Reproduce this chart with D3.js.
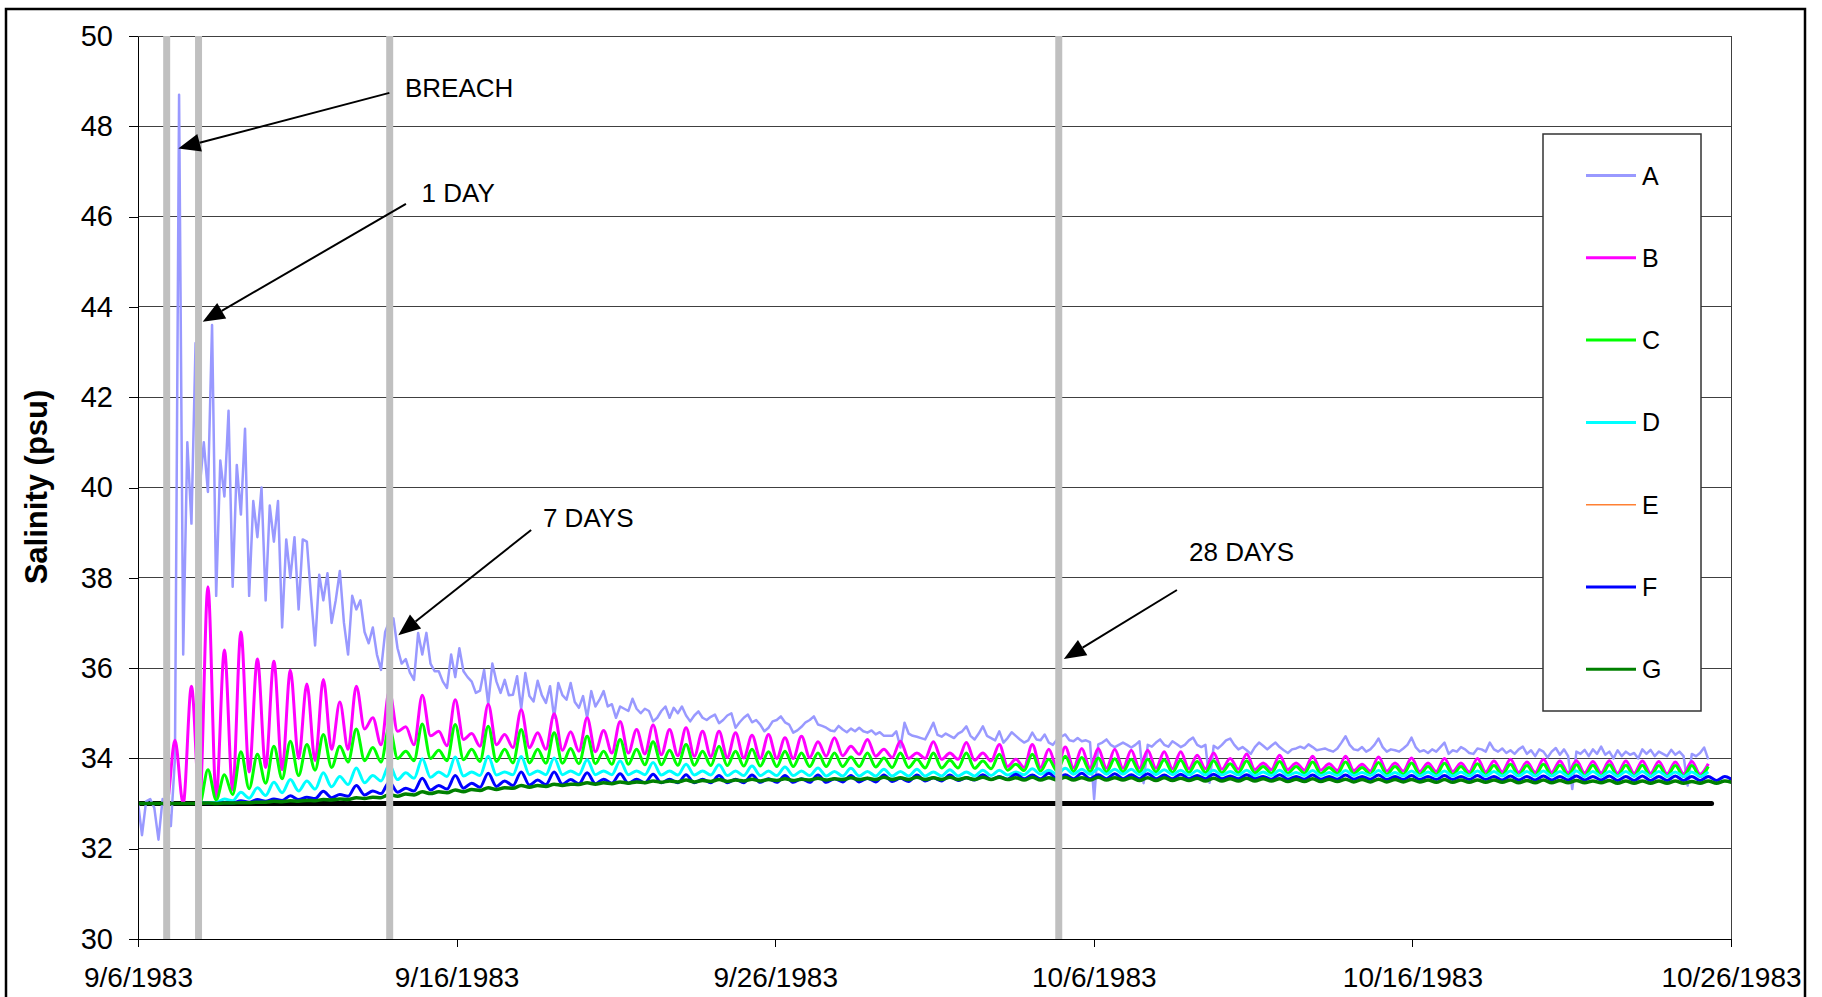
<!DOCTYPE html>
<html lang="en">
<head>
<meta charset="UTF-8">
<title>salinity-breach</title>
<script src="https://cdn.jsdelivr.net/npm/d3@7"></script>
<style>
  body { margin: 0; background: #fff; }
  svg { display: block; font-family: "Liberation Sans", Arial, sans-serif; }
</style>
</head>
<body>
<script>
// ---------- data ----------
const xTickLabels = ['9/6/1983', '9/16/1983', '9/26/1983', '10/6/1983', '10/16/1983', '10/26/1983'];
const yTicks = [30, 32, 34, 36, 38, 40, 42, 44, 46, 48, 50];
const seriesNames = ['A', 'B', 'C', 'D', 'E', 'F', 'G'];

// sampling: first low water 0.134 d before 9/6/1983, half tidal cycle between samples
const tideStart = -0.13375;
const halfTide = 0.25875;

// A: sampled every quarter tidal cycle
const aValues = [
  33.05, 33.05, 32.3, 33.05, 33.1, 32.9, 32.2, 33.1,
  33.05, 32.5, 34.0, 48.7, 36.3, 41.0, 39.2, 43.2,
  40.0, 41.0, 39.9, 43.6, 37.6, 40.6, 39.8, 41.7,
  37.8, 40.5, 39.4, 41.3, 37.6, 39.7, 38.9, 40.0,
  37.5, 39.6, 38.8, 39.7, 36.9, 38.85, 38.0, 38.9,
  37.3, 38.85, 38.8, 37.6, 36.5, 38.07, 37.5, 38.1,
  37.0, 37.5, 38.15, 37.0, 36.3, 37.6, 37.3, 37.5,
  36.8, 36.55, 36.9, 36.3, 35.96, 36.8, 37.04, 37.1,
  36.44, 36.1, 36.2, 35.9, 35.74, 36.78, 36.3, 36.78,
  36.1, 35.93, 35.93, 35.7, 35.56, 36.3, 35.8, 36.44,
  35.93, 35.8, 35.7, 35.45, 35.5, 35.96, 35.2, 36.1,
  35.7, 35.45, 35.74, 35.4, 35.41, 35.82, 35.1, 35.89,
  35.38, 35.26, 35.72, 35.4, 35.23, 35.6, 34.9, 35.67,
  35.4, 35.3, 35.67, 35.25, 35.12, 35.38, 34.9, 35.49,
  35.15, 35.3, 35.49, 35.15, 35.2, 34.9, 35.15, 35.1,
  35.05, 35.32, 35.1, 35.0, 35.1, 35.05, 34.82, 34.9,
  35.05, 35.15, 34.9, 35.12, 35.0, 35.15, 34.95, 34.82,
  34.95, 35.04, 34.9, 34.85, 34.92, 34.97, 34.78, 34.85,
  34.95, 35.0, 34.68, 34.8, 34.9, 34.97, 34.8, 34.85,
  34.75, 34.6, 34.68, 34.82, 34.85, 34.93, 34.8, 34.75,
  34.57, 34.62, 34.7, 34.8, 34.85, 34.93, 34.75, 34.72,
  34.68, 34.62, 34.6, 34.72, 34.64, 34.58, 34.66, 34.6,
  34.68, 34.6, 34.57, 34.62, 34.53, 34.58, 34.5, 34.5,
  34.5, 34.6, 34.24, 34.79, 34.55, 34.5, 34.48, 34.45,
  34.42, 34.6, 34.79, 34.52, 34.48, 34.55, 34.5, 34.45,
  34.55, 34.6, 34.71, 34.5, 34.42, 34.55, 34.71, 34.5,
  34.45, 34.4, 34.6, 34.35, 34.45, 34.58, 34.5, 34.42,
  34.35, 34.4, 34.57, 34.42, 34.4, 34.53, 34.35, 34.3,
  34.42, 34.48, 34.53, 34.4, 34.38, 34.45, 34.38, 34.4,
  34.36, 33.1, 34.31, 34.35, 34.42, 34.3, 34.25, 34.3,
  34.35, 34.3, 34.24, 34.3, 34.38, 33.45, 34.3, 34.26,
  34.35, 34.42, 34.3, 34.26, 34.38, 34.32, 34.25, 34.3,
  34.4, 34.46, 34.3, 34.25, 34.3, 33.46, 34.28, 34.22,
  34.3, 34.4, 34.44, 34.3, 34.2, 34.25, 34.18, 34.1,
  34.25, 34.35, 34.28, 34.2, 34.28, 34.35, 34.25, 34.18,
  34.12, 34.2, 34.22, 34.26, 34.22, 34.31, 34.25, 34.18,
  34.2, 34.22, 34.18, 34.15, 34.22, 34.35, 34.49, 34.3,
  34.2, 34.18, 34.25, 34.15, 34.2, 34.3, 34.44, 34.25,
  34.15, 34.2, 34.18, 34.15, 34.22, 34.3, 34.46, 34.25,
  34.15, 34.18, 34.12, 34.2, 34.15, 34.25, 34.35, 34.1,
  34.18, 34.15, 34.25, 34.2, 34.12, 34.1, 34.22, 34.2,
  34.15, 34.35, 34.2, 34.15, 34.22, 34.12, 34.18, 34.1,
  34.2, 34.26, 34.1, 34.18, 34.05, 34.2, 34.15, 34.02,
  34.15, 34.23, 34.08, 34.2, 34.05, 33.32, 34.15, 34.1,
  34.19, 34.05, 34.2, 34.1, 34.26, 34.08, 34.15, 34.0,
  34.18, 34.05, 34.15, 34.08, 34.12, 34.0, 34.2, 34.1,
  34.19, 34.05, 34.15, 34.1, 34.05, 34.19, 34.08, 34.15,
  34.05, 33.4, 34.1, 34.05, 34.12, 34.24, 33.98
];

// B..G: low water (before high water k) and high water k
const bTroughs = [
  33.0, 33.0, 33.0, 33.0, 33.0, 33.15, 33.3, 33.7, 33.8, 33.75,
  34.0, 33.95, 34.2, 34.2, 34.65, 34.3, 34.6, 34.3, 34.5, 34.28,
  34.42, 34.27, 34.3, 34.24, 34.24, 34.2, 34.18, 34.16, 34.15, 34.12,
  34.12, 34.1, 34.08, 34.06, 34.05, 34.04, 34.02, 34.01, 34.0, 34.0,
  34.0, 34.02, 34.05, 34.06, 34.09, 34.05, 34.02, 34.0, 34.0, 33.98,
  33.98, 33.96, 33.94, 33.82, 33.8, 33.8, 33.8, 33.79, 33.79, 33.78,
  33.78, 33.78, 33.78, 33.77, 33.77, 33.77, 33.76, 33.76, 33.75, 33.75,
  33.75, 33.74, 33.74, 33.73, 33.73, 33.72, 33.72, 33.72, 33.71, 33.71,
  33.71, 33.7, 33.7, 33.7, 33.69, 33.69, 33.69, 33.68, 33.68, 33.68,
  33.67, 33.67, 33.67, 33.66, 33.66, 33.65
];
const bPeaks = [
  33.0, 33.0, 34.4, 35.6, 37.8, 36.4, 36.8, 36.2, 36.15, 35.95,
  35.65, 35.75, 35.25, 35.6, 34.9, 35.5, 34.7, 35.4, 34.6, 35.3,
  34.55, 35.2, 34.53, 35.08, 34.57, 34.99, 34.59, 34.9, 34.62, 34.82,
  34.64, 34.74, 34.64, 34.68, 34.6, 34.6, 34.57, 34.51, 34.53, 34.46,
  34.49, 34.37, 34.46, 34.27, 34.42, 34.2, 34.38, 34.12, 34.37, 34.12,
  34.35, 34.12, 34.31, 33.98, 34.31, 34.2, 34.25, 34.22, 34.22, 34.2,
  34.18, 34.18, 34.15, 34.15, 34.07, 34.12, 34.0, 34.1, 33.9, 34.07,
  33.9, 34.05, 33.88, 34.05, 33.87, 34.03, 33.9, 34.01, 33.9, 34.0,
  33.9, 34.0, 33.94, 33.98, 33.92, 33.98, 33.94, 33.95, 33.93, 33.95,
  33.94, 33.94, 33.93, 33.92, 33.93, 33.88
];
const cTroughs = [
  33.0, 33.0, 33.0, 33.0, 33.0, 33.08, 33.2, 33.33, 33.45, 33.55,
  33.62, 33.74, 33.8, 33.92, 33.95, 33.92, 34.0, 33.95, 34.0, 33.95,
  33.97, 33.93, 33.93, 33.9, 33.9, 33.89, 33.89, 33.88, 33.88, 33.87,
  33.87, 33.86, 33.86, 33.85, 33.85, 33.84, 33.84, 33.83, 33.83, 33.82,
  33.82, 33.82, 33.82, 33.82, 33.82, 33.81, 33.8, 33.8, 33.79, 33.79,
  33.79, 33.78, 33.77, 33.74, 33.73, 33.72, 33.72, 33.71, 33.71, 33.7,
  33.7, 33.7, 33.7, 33.69, 33.69, 33.69, 33.68, 33.68, 33.68, 33.67,
  33.67, 33.67, 33.66, 33.66, 33.66, 33.65, 33.65, 33.65, 33.64, 33.64,
  33.64, 33.63, 33.63, 33.63, 33.62, 33.62, 33.62, 33.62, 33.61, 33.61,
  33.61, 33.61, 33.6, 33.6, 33.6, 33.6
];
const cPeaks = [
  33.0, 33.0, 33.0, 33.0, 33.75, 33.64, 34.15, 34.09, 34.27, 34.38,
  34.31, 34.53, 34.27, 34.65, 34.24, 34.7, 34.16, 34.76, 34.18, 34.75,
  34.2, 34.71, 34.2, 34.64, 34.2, 34.57, 34.22, 34.49, 34.16, 34.42,
  34.2, 34.37, 34.18, 34.31, 34.16, 34.27, 34.16, 34.2, 34.15, 34.16,
  34.12, 34.12, 34.12, 34.03, 34.12, 34.01, 34.12, 33.98, 34.12, 33.96,
  34.12, 33.94, 34.09, 33.87, 34.09, 33.98, 34.05, 34.02, 34.01, 33.99,
  33.98, 33.98, 33.97, 33.96, 33.93, 33.95, 33.88, 33.94, 33.82, 33.93,
  33.82, 33.92, 33.8, 33.92, 33.8, 33.91, 33.82, 33.9, 33.82, 33.89,
  33.82, 33.88, 33.84, 33.87, 33.84, 33.87, 33.85, 33.86, 33.85, 33.86,
  33.85, 33.85, 33.84, 33.84, 33.84, 33.82
];
const dTroughs = [
  33.0, 33.0, 33.0, 33.0, 33.0, 33.02, 33.06, 33.12, 33.18, 33.24,
  33.28, 33.32, 33.37, 33.42, 33.46, 33.5, 33.53, 33.56, 33.58, 33.6,
  33.61, 33.62, 33.63, 33.64, 33.64, 33.64, 33.64, 33.64, 33.64, 33.64,
  33.64, 33.64, 33.63, 33.63, 33.63, 33.63, 33.62, 33.62, 33.62, 33.62,
  33.62, 33.62, 33.61, 33.61, 33.61, 33.61, 33.61, 33.61, 33.61, 33.61,
  33.61, 33.61, 33.62, 33.63, 33.64, 33.65, 33.65, 33.65, 33.65, 33.65,
  33.65, 33.64, 33.64, 33.64, 33.63, 33.63, 33.63, 33.63, 33.62, 33.62,
  33.62, 33.62, 33.62, 33.62, 33.62, 33.62, 33.61, 33.61, 33.61, 33.61,
  33.61, 33.61, 33.61, 33.61, 33.61, 33.61, 33.61, 33.6, 33.6, 33.6,
  33.6, 33.6, 33.6, 33.6, 33.6, 33.6
];
const dPeaks = [
  33.0, 33.0, 33.0, 33.0, 33.02, 33.1, 33.25, 33.35, 33.47, 33.53,
  33.5, 33.68, 33.6, 33.79, 33.62, 33.86, 33.68, 33.99, 33.7, 34.03,
  33.7, 34.05, 33.7, 34.04, 33.72, 34.01, 33.72, 33.97, 33.72, 33.94,
  33.72, 33.91, 33.72, 33.87, 33.72, 33.86, 33.72, 33.83, 33.72, 33.81,
  33.72, 33.79, 33.71, 33.78, 33.71, 33.76, 33.71, 33.76, 33.7, 33.75,
  33.7, 33.74, 33.74, 33.7, 33.77, 33.74, 33.78, 33.76, 33.77, 33.76,
  33.76, 33.75, 33.75, 33.74, 33.73, 33.74, 33.71, 33.74, 33.7, 33.74,
  33.69, 33.73, 33.69, 33.73, 33.69, 33.73, 33.69, 33.72, 33.7, 33.72,
  33.7, 33.72, 33.71, 33.72, 33.71, 33.72, 33.71, 33.72, 33.71, 33.71,
  33.71, 33.71, 33.71, 33.7, 33.7, 33.7
];
const fTroughs = [
  33.0, 33.0, 33.0, 33.0, 33.0, 33.0, 33.01, 33.03, 33.05, 33.07,
  33.09, 33.11, 33.13, 33.16, 33.19, 33.22, 33.25, 33.28, 33.3, 33.32,
  33.34, 33.36, 33.38, 33.4, 33.41, 33.42, 33.43, 33.44, 33.44, 33.45,
  33.45, 33.46, 33.46, 33.46, 33.46, 33.46, 33.46, 33.46, 33.47, 33.47,
  33.47, 33.47, 33.47, 33.48, 33.48, 33.48, 33.49, 33.49, 33.5, 33.5,
  33.51, 33.52, 33.53, 33.54, 33.55, 33.55, 33.55, 33.55, 33.55, 33.55,
  33.55, 33.55, 33.55, 33.55, 33.55, 33.55, 33.55, 33.55, 33.55, 33.54,
  33.54, 33.54, 33.54, 33.54, 33.54, 33.54, 33.53, 33.53, 33.53, 33.53,
  33.53, 33.53, 33.53, 33.52, 33.52, 33.52, 33.52, 33.52, 33.52, 33.52,
  33.51, 33.51, 33.51, 33.51, 33.51, 33.51, 33.51, 33.51
];
const fPeaks = [
  33.0, 33.0, 33.0, 33.0, 33.0, 33.02, 33.06, 33.09, 33.1, 33.17,
  33.14, 33.27, 33.2, 33.4, 33.28, 33.48, 33.34, 33.56, 33.4, 33.62,
  33.45, 33.67, 33.5, 33.7, 33.52, 33.7, 33.53, 33.68, 33.54, 33.66,
  33.54, 33.65, 33.54, 33.64, 33.54, 33.62, 33.54, 33.63, 33.55, 33.62,
  33.55, 33.63, 33.55, 33.62, 33.56, 33.63, 33.56, 33.63, 33.57, 33.63,
  33.57, 33.64, 33.6, 33.65, 33.63, 33.67, 33.64, 33.67, 33.64, 33.66,
  33.64, 33.66, 33.63, 33.65, 33.62, 33.65, 33.61, 33.64, 33.6, 33.64,
  33.6, 33.63, 33.6, 33.63, 33.6, 33.63, 33.6, 33.62, 33.6, 33.62,
  33.6, 33.62, 33.6, 33.61, 33.6, 33.61, 33.6, 33.61, 33.6, 33.61,
  33.6, 33.61, 33.6, 33.61, 33.6, 33.6, 33.6
];
const gTroughs = [
  33.0, 33.0, 33.0, 33.0, 33.0, 33.0, 33.01, 33.02, 33.03, 33.04,
  33.05, 33.06, 33.08, 33.09, 33.11, 33.13, 33.16, 33.19, 33.22, 33.24,
  33.26, 33.29, 33.31, 33.34, 33.36, 33.38, 33.4, 33.42, 33.43, 33.44,
  33.45, 33.46, 33.47, 33.48, 33.48, 33.49, 33.49, 33.5, 33.5, 33.51,
  33.51, 33.52, 33.52, 33.53, 33.53, 33.53, 33.53, 33.53, 33.53, 33.53,
  33.53, 33.53, 33.53, 33.53, 33.52, 33.52, 33.52, 33.52, 33.52, 33.52,
  33.52, 33.51, 33.51, 33.51, 33.51, 33.5, 33.5, 33.5, 33.5, 33.5,
  33.49, 33.49, 33.49, 33.49, 33.48, 33.48, 33.48, 33.48, 33.48, 33.47,
  33.47, 33.47, 33.47, 33.47, 33.46, 33.46, 33.46, 33.46, 33.46, 33.46,
  33.45, 33.45, 33.45, 33.45, 33.45, 33.45, 33.45, 33.46
];
const gPeaks = [
  33.0, 33.0, 33.0, 33.0, 33.01, 33.01, 33.02, 33.03, 33.05, 33.06,
  33.07, 33.09, 33.1, 33.13, 33.14, 33.2, 33.21, 33.26, 33.26, 33.3,
  33.31, 33.35, 33.35, 33.4, 33.4, 33.43, 33.43, 33.46, 33.46, 33.48,
  33.48, 33.5, 33.5, 33.52, 33.51, 33.53, 33.52, 33.54, 33.53, 33.55,
  33.54, 33.56, 33.55, 33.57, 33.56, 33.58, 33.57, 33.58, 33.57, 33.58,
  33.57, 33.58, 33.58, 33.57, 33.58, 33.57, 33.58, 33.57, 33.58, 33.57,
  33.57, 33.57, 33.57, 33.56, 33.56, 33.56, 33.55, 33.56, 33.55, 33.55,
  33.54, 33.55, 33.54, 33.54, 33.53, 33.54, 33.53, 33.53, 33.52, 33.53,
  33.52, 33.52, 33.52, 33.52, 33.51, 33.52, 33.51, 33.51, 33.5, 33.51,
  33.5, 33.5, 33.5, 33.5, 33.49, 33.5, 33.5
];
// E is hidden under G in the original chart
const eTroughs = gTroughs;
const ePeaks = gPeaks;

const refLevel = 33;        // initial salinity
const refEndDay = 49.39;
const breachDay = 0.9;      // days after 9/6/1983
const eventOffsets = [0, 1, 7, 28];
const eventLabels = ['BREACH', '1 DAY', '7 DAYS', '28 DAYS'];

// ---------- layout ----------
const W = 1822, H = 997;
const plot = { left: 138, right: 1731, top: 36, bottom: 939 };
const font = '"Liberation Sans", Arial, sans-serif';

const parseDate = d3.utcParse('%m/%d/%Y');
const xTickDates = xTickLabels.map(parseDate);
const t0 = xTickDates[0].getTime();
const dayToDate = d => new Date(t0 + d * 864e5);

const x = d3.scaleUtc()
  .domain([xTickDates[0], xTickDates[xTickDates.length - 1]])
  .range([plot.left, plot.right]);
const y = d3.scaleLinear().domain([30, 50]).range([plot.bottom, plot.top]);

function tidal(troughs, peaks) {
  const pts = [];
  for (let k = 0; k < troughs.length; k++) {
    pts.push({ t: tideStart + 2 * k * halfTide, v: troughs[k] });
    if (k < peaks.length) pts.push({ t: tideStart + (2 * k + 1) * halfTide, v: peaks[k] });
  }
  return pts;
}
const aPoints = aValues.map((v, j) => ({ t: tideStart + j * halfTide / 2, v: v }));

const series = [
  { name: 'A', color: '#9999ff', width: 2.5, legendWidth: 3,   points: aPoints, curve: d3.curveLinear },
  { name: 'B', color: '#ff00ff', width: 3,   legendWidth: 3,   points: tidal(bTroughs, bPeaks), curve: d3.curveMonotoneX },
  { name: 'C', color: '#00ff00', width: 3,   legendWidth: 3,   points: tidal(cTroughs, cPeaks), curve: d3.curveMonotoneX },
  { name: 'D', color: '#00ffff', width: 3,   legendWidth: 3,   points: tidal(dTroughs, dPeaks), curve: d3.curveMonotoneX },
  { name: 'E', color: '#ff8033', width: 1.5, legendWidth: 1.5, points: tidal(eTroughs, ePeaks), curve: d3.curveMonotoneX },
  { name: 'F', color: '#0000ff', width: 3,   legendWidth: 3,   points: tidal(fTroughs, fPeaks), curve: d3.curveMonotoneX },
  { name: 'G', color: '#008000', width: 3.5, legendWidth: 3,   points: tidal(gTroughs, gPeaks), curve: d3.curveMonotoneX }
];

const svg = d3.select('body').append('svg')
  .attr('width', W)
  .attr('height', H);

svg.append('clipPath').attr('id', 'plotClip')
  .append('rect')
  .attr('x', plot.left).attr('y', plot.top)
  .attr('width', plot.right - plot.left).attr('height', plot.bottom - plot.top);

// outer chart frame
svg.append('rect')
  .attr('x', 6).attr('y', 9)
  .attr('width', 1799).attr('height', 1000)
  .attr('fill', 'none').attr('stroke', '#000').attr('stroke-width', 2.5);

// gridlines
svg.append('g').selectAll('line')
  .data(yTicks)
  .join('line')
  .attr('x1', plot.left).attr('x2', plot.right)
  .attr('y1', d => y(d)).attr('y2', d => y(d))
  .attr('stroke', '#404040')
  .attr('shape-rendering', 'crispEdges');

svg.append('line')
  .attr('x1', plot.right).attr('x2', plot.right)
  .attr('y1', plot.top).attr('y2', plot.bottom)
  .attr('stroke', '#404040')
  .attr('shape-rendering', 'crispEdges');

const plotArea = svg.append('g').attr('clip-path', 'url(#plotClip)');

// initial salinity reference
plotArea.append('line')
  .attr('x1', x(dayToDate(0))).attr('x2', x(dayToDate(refEndDay)))
  .attr('y1', y(refLevel)).attr('y2', y(refLevel))
  .attr('stroke', '#000').attr('stroke-width', 5)
  .attr('stroke-linecap', 'round');

series.forEach(s => {
  const line = d3.line()
    .x(p => x(dayToDate(p.t)))
    .y(p => y(p.v))
    .curve(s.curve);
  plotArea.append('path')
    .datum(s.points)
    .attr('d', line)
    .attr('fill', 'none')
    .attr('stroke', s.color)
    .attr('stroke-width', s.width)
    .attr('stroke-linejoin', 'round');
});

// event bars
svg.append('g').selectAll('rect')
  .data(eventOffsets)
  .join('rect')
  .attr('x', d => x(dayToDate(breachDay + d)) - 3.5)
  .attr('y', plot.top)
  .attr('width', 7)
  .attr('height', plot.bottom - plot.top)
  .attr('fill', '#c0c0c0');

// axes
svg.append('g')
  .attr('transform', 'translate(' + plot.left + ',0)')
  .call(d3.axisLeft(y).tickValues(yTicks).tickSize(9).tickSizeOuter(0).tickPadding(16).tickFormat(d3.format('d')))
  .attr('font-size', 29).attr('font-family', font)
  .call(g => g.selectAll('line, path').attr('stroke', '#000').attr('shape-rendering', 'crispEdges'))
  .call(g => g.selectAll('text').attr('fill', '#000'));

svg.append('g')
  .attr('transform', 'translate(0,' + plot.bottom + ')')
  .call(d3.axisBottom(x).tickValues(xTickDates).tickSize(8).tickSizeOuter(0).tickPadding(20)
    .tickFormat((d, i) => xTickLabels[i]))
  .attr('font-size', 28).attr('font-family', font)
  .call(g => g.selectAll('line, path').attr('stroke', '#000').attr('shape-rendering', 'crispEdges'))
  .call(g => g.selectAll('text').attr('fill', '#000'));

// y title
svg.append('text')
  .attr('transform', 'translate(47,487) rotate(-90)')
  .attr('text-anchor', 'middle')
  .attr('font-size', 31)
  .attr('font-weight', 'bold')
  .attr('font-family', font)
  .text('Salinity (psu)');

// legend
const legend = svg.append('g').attr('font-family', font).attr('font-size', 25);
legend.append('rect')
  .attr('x', 1543).attr('y', 134)
  .attr('width', 158).attr('height', 577)
  .attr('fill', '#fff').attr('stroke', '#333').attr('stroke-width', 1.5);
series.forEach((s, i) => {
  const ly = 175.5 + i * 82.3;
  legend.append('line')
    .attr('x1', 1586).attr('x2', 1636)
    .attr('y1', ly).attr('y2', ly)
    .attr('stroke', s.color).attr('stroke-width', s.legendWidth);
  legend.append('text')
    .attr('x', 1642).attr('y', ly)
    .attr('dy', '0.36em')
    .text(seriesNames[i]);
});

// annotations, positioned in data units (day, psu)
const notes = [
  { text: [8.38, 48.65], from: [7.89, 48.74], to: [1.265, 47.51] },
  { text: [8.9, 46.32], from: [8.41, 46.28], to: [2.03, 43.67] },
  { text: [12.71, 39.12], from: [12.34, 39.06], to: [8.17, 36.73] },
  { text: [32.99, 38.37], from: [32.61, 37.73], to: [29.06, 36.2] }
];
const px = p => [x(dayToDate(p[0])), y(p[1])];
const ann = svg.append('g');
notes.forEach((n, i) => {
  const [fx, fy] = px(n.from);
  const [tx, ty] = px(n.to);
  const len = Math.hypot(tx - fx, ty - fy);
  const ux = (tx - fx) / len, uy = (ty - fy) / len;
  const bx = tx - ux * 22, by = ty - uy * 22;
  ann.append('line')
    .attr('x1', fx).attr('y1', fy).attr('x2', bx).attr('y2', by)
    .attr('stroke', '#000').attr('stroke-width', 2);
  ann.append('polygon')
    .attr('points', [[tx, ty], [bx - uy * 9, by + ux * 9], [bx + uy * 9, by - ux * 9]].join(' '))
    .attr('fill', '#000');
  const [lx, ly] = px(n.text);
  ann.append('text')
    .attr('x', lx).attr('y', ly)
    .attr('font-family', font).attr('font-size', 26)
    .text(eventLabels[i]);
});
</script>
</body>
</html>
